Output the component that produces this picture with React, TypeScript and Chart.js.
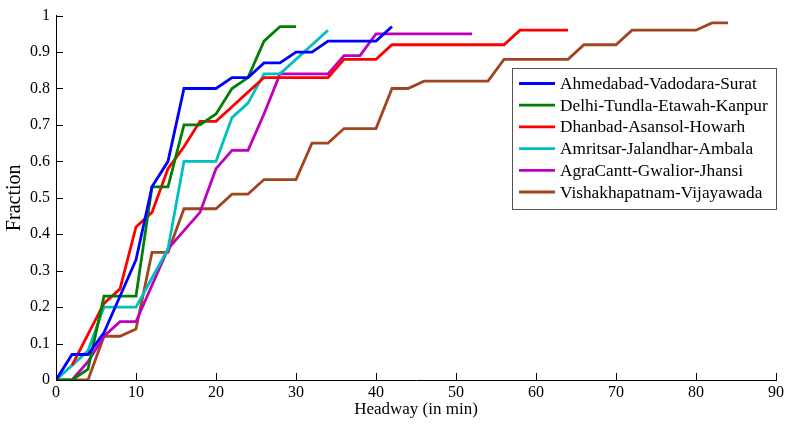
import React, { useEffect, useRef } from "react";
import { Chart, registerables } from "chart.js";

Chart.register(...registerables);

const seriesNames = [
  "Ahmedabad-Vadodara-Surat",
  "Delhi-Tundla-Etawah-Kanpur",
  "Dhanbad-Asansol-Howarh",
  "Amritsar-Jalandhar-Ambala",
  "AgraCantt-Gwalior-Jhansi",
  "Vishakhapatnam-Vijayawada",
];

const ahmedabadX = [0, 2, 4, 6, 8, 10, 12, 14, 16, 20, 22, 24, 26, 28, 30, 32, 34, 40, 42];
const ahmedabadY = [0, 0.07, 0.07, 0.13, 0.23, 0.33, 0.53, 0.6, 0.8, 0.8, 0.83, 0.83, 0.87, 0.87, 0.9, 0.9, 0.93, 0.93, 0.97];

const delhiX = [0, 2, 4, 6, 10, 12, 14, 16, 18, 20, 22, 24, 26, 28, 30];
const delhiY = [0, 0, 0.03, 0.23, 0.23, 0.53, 0.53, 0.7, 0.7, 0.73, 0.8, 0.83, 0.93, 0.97, 0.97];

const dhanbadX = [2, 6, 8, 10, 12, 14, 16, 18, 20, 22, 24, 26, 34, 36, 40, 42, 56, 58, 64];
const dhanbadY = [0.04, 0.21, 0.25, 0.42, 0.46, 0.58, 0.64, 0.71, 0.71, 0.75, 0.79, 0.83, 0.83, 0.88, 0.88, 0.92, 0.92, 0.96, 0.96];

const amritsarX = [0, 4, 6, 10, 12, 14, 16, 20, 22, 24, 26, 28, 34];
const amritsarY = [0, 0.08, 0.2, 0.2, 0.28, 0.36, 0.6, 0.6, 0.72, 0.76, 0.84, 0.84, 0.96];

const agraX = [2, 4, 6, 8, 10, 12, 14, 16, 18, 20, 22, 24, 26, 28, 34, 36, 38, 40, 52];
const agraY = [0, 0.05, 0.12, 0.16, 0.16, 0.26, 0.36, 0.41, 0.46, 0.58, 0.63, 0.63, 0.73, 0.84, 0.84, 0.89, 0.89, 0.95, 0.95];

const vishakhaX = [0, 4, 6, 8, 10, 12, 14, 16, 20, 22, 24, 26, 30, 32, 34, 36, 40, 42, 44, 46, 54, 56, 64, 66, 70, 72, 80, 82, 84];
const vishakhaY = [0, 0, 0.12, 0.12, 0.14, 0.35, 0.35, 0.47, 0.47, 0.51, 0.51, 0.55, 0.55, 0.65, 0.65, 0.69, 0.69, 0.8, 0.8, 0.82, 0.82, 0.88, 0.88, 0.92, 0.92, 0.96, 0.96, 0.98, 0.98];

const seriesX = [ahmedabadX, delhiX, dhanbadX, amritsarX, agraX, vishakhaX];
const seriesY = [ahmedabadY, delhiY, dhanbadY, amritsarY, agraY, vishakhaY];
const seriesColors = ["#0000FF", "#008000", "#FF0000", "#00BFBF", "#BF00BF", "#A0461E"];

const xTickStep = 10;
const yTickStep = 0.1;

const SERIF = "'Liberation Serif', 'DejaVu Serif', serif";

const inwardTicks = {
  id: "inwardTicks",
  afterDatasetsDraw(chart: any) {
    const { ctx, chartArea, scales } = chart;
    const len = 7;
    ctx.save();
    ctx.strokeStyle = "#000";
    ctx.lineWidth = 1;
    ctx.beginPath();
    scales.x.ticks.forEach((t: any) => {
      const px = Math.round(scales.x.getPixelForValue(t.value)) + 0.5;
      ctx.moveTo(px, chartArea.bottom);
      ctx.lineTo(px, chartArea.bottom - len);
    });
    scales.y.ticks.forEach((t: any) => {
      const py = Math.round(scales.y.getPixelForValue(t.value)) + 0.5;
      ctx.moveTo(chartArea.left, py);
      ctx.lineTo(chartArea.left + len, py);
    });
    ctx.stroke();
    ctx.restore();
  },
};

const boxLegend = {
  id: "boxLegend",
  afterDraw(chart: any) {
    const { ctx } = chart;
    const left = 512.5;
    const top = 68.5;
    const right = 776.5;
    const bottom = 209.5;
    ctx.save();
    ctx.fillStyle = "#fff";
    ctx.fillRect(left, top, right - left, bottom - top);
    ctx.strokeStyle = "#555";
    ctx.lineWidth = 1;
    ctx.strokeRect(left, top, right - left, bottom - top);
    ctx.font = `17.3px ${SERIF}`;
    ctx.textBaseline = "middle";
    ctx.textAlign = "left";
    chart.data.datasets.forEach((ds: any, i: number) => {
      const y = 83.5 + i * 21.7;
      ctx.strokeStyle = ds.borderColor;
      ctx.lineWidth = 2.8;
      ctx.beginPath();
      ctx.moveTo(519, y);
      ctx.lineTo(555, y);
      ctx.stroke();
      ctx.fillStyle = "#000";
      ctx.fillText(ds.label, 560, y + 1);
    });
    ctx.restore();
  },
};

export default function App() {
  const canvasRef = useRef<HTMLCanvasElement | null>(null);

  useEffect(() => {
    if (!canvasRef.current) return;
    const datasets = seriesNames.map((name, i) => ({
      label: name,
      data: seriesX[i].map((x, j) => ({ x, y: seriesY[i][j] })),
      borderColor: seriesColors[i],
      backgroundColor: seriesColors[i],
      borderWidth: 2.8,
      pointRadius: 0,
      tension: 0,
      fill: false,
    }));
    const chart = new Chart(canvasRef.current, {
      type: "line",
      data: { datasets },
      options: {
        animation: false,
        responsive: false,
        layout: { padding: { top: 14, right: 12, left: 0, bottom: 0 } },
        plugins: {
          legend: { display: false },
          tooltip: { enabled: false },
        },
        scales: {
          x: {
            type: "linear",
            min: 0,
            max: 90,
            afterFit: (s: any) => {
              s.height = 49;
            },
            ticks: {
              stepSize: xTickStep,
              color: "#000",
              font: { family: SERIF, size: 16 },
              padding: 3,
              maxRotation: 0,
            },
            grid: { display: false, drawTicks: false },
            border: { display: true, color: "#000", width: 1 },
            title: {
              display: true,
              text: "Headway (in min)",
              color: "#000",
              font: { family: SERIF, size: 17 },
              padding: { top: 0, bottom: 9 },
            },
          },
          y: {
            type: "linear",
            min: 0,
            max: 1,
            afterFit: (s: any) => {
              s.width = 56;
            },
            ticks: {
              stepSize: yTickStep,
              color: "#000",
              font: { family: SERIF, size: 16 },
              padding: 6,
              callback: (v: any) => String(Number(Number(v).toFixed(1))),
            },
            grid: { display: false, drawTicks: false },
            border: { display: true, color: "#000", width: 1 },
            title: {
              display: true,
              text: "Fraction",
              color: "#000",
              font: { family: SERIF, size: 20 },
              padding: { top: 3, bottom: 0 },
            },
          },
        },
      },
      plugins: [inwardTicks, boxLegend],
    });
    return () => chart.destroy();
  }, []);

  return (
    <div style={{ position: "fixed", left: 0, top: 0, width: 788, height: 429, background: "#fff" }}>
      <canvas ref={canvasRef} width={788} height={429} style={{ display: "block" }} />
    </div>
  );
}
